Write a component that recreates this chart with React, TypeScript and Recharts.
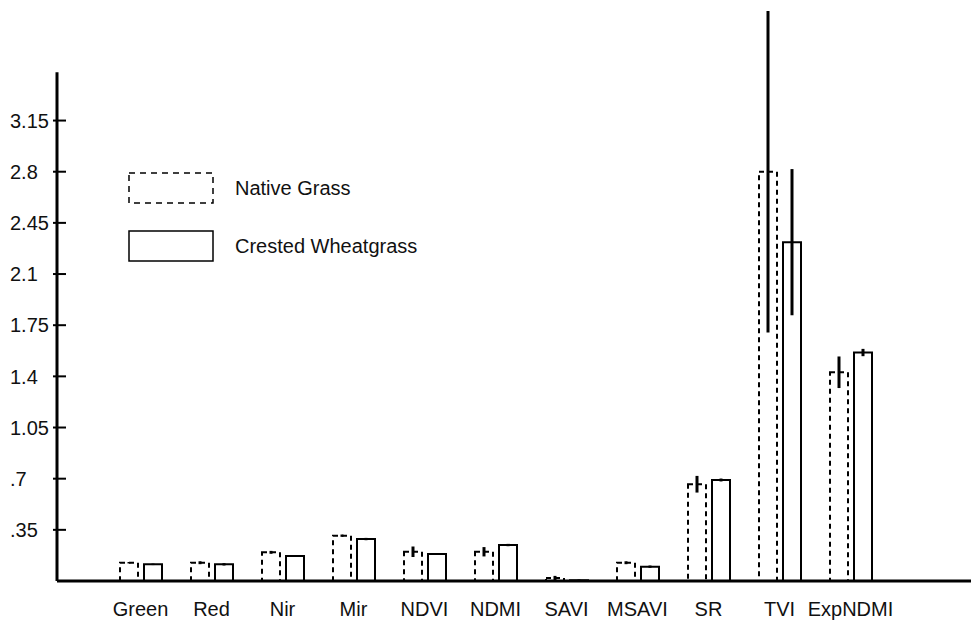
import React from "react";
import {
  BarChart,
  Bar,
  XAxis,
  YAxis,
  ErrorBar,
  Legend,
  ReferenceLine,
} from "recharts";

// Spectral bands / indices on the x axis
const categories = [
  "Green",
  "Red",
  "Nir",
  "Mir",
  "NDVI",
  "NDMI",
  "SAVI",
  "MSAVI",
  "SR",
  "TVI",
  "ExpNDMI",
];

// Mean values
const nativeValues = [0.125, 0.125, 0.196, 0.31, 0.2, 0.2, 0.02, 0.125, 0.662, 2.8, 1.428];
const crestedValues = [0.114, 0.114, 0.171, 0.287, 0.185, 0.246, 0.005, 0.098, 0.691, 2.318, 1.563];

// Error bar half lengths
const nativeErrors = [0.005, 0.01, 0.01, 0.008, 0.036, 0.032, 0.015, 0.01, 0.057, 1.1, 0.108];
const crestedErrors = [0.005, 0.008, 0.005, 0.008, 0.005, 0.008, 0.005, 0.008, 0.01, 0.5, 0.025];

const yTicks = [0.35, 0.7, 1.05, 1.4, 1.75, 2.1, 2.45, 2.8, 3.15];
const yAxisTop = 3.48;

const seriesNames = ["Native Grass", "Crested Wheatgrass"];

const chartData = categories.map((name, i) => ({
  name,
  native: nativeValues[i],
  nativeErr: nativeErrors[i],
  crested: crestedValues[i],
  crestedErr: crestedErrors[i],
}));

const FONT = "'Liberation Sans', Arial, sans-serif";
const AXIS_X = 57;

const formatTick = (v: number) => String(v).replace(/^0(?=\.)/, "");

const YTick = (props: any) => {
  const { y, payload } = props;
  return (
    <g>
      <line x1={AXIS_X - 4} x2={AXIS_X + 9} y1={y} y2={y} stroke="#000" strokeWidth={2} />
      <text x={10} y={y} dy="0.36em" textAnchor="start" fontSize={20} fontFamily={FONT} fill="#111">
        {formatTick(payload.value)}
      </text>
    </g>
  );
};

const XTick = (props: any) => {
  const { x, y, payload } = props;
  return (
    <text x={x} y={y + 28} dy="0.36em" textAnchor="middle" fontSize={20} fontFamily={FONT} fill="#111">
      {payload.value}
    </text>
  );
};

const renderLegend = () => (
  <div style={{ fontFamily: FONT, fontSize: 20, color: "#111" }}>
    {seriesNames.map((name, i) => (
      <div key={name} style={{ display: "flex", alignItems: "center", height: 32, marginBottom: 26 }}>
        <svg width={86} height={32}>
          <rect
            x={1}
            y={1}
            width={84}
            height={30}
            fill="#fff"
            stroke="#000"
            strokeWidth={1.5}
            strokeDasharray={i === 0 ? "6 5" : undefined}
          />
        </svg>
        <span style={{ marginLeft: 21 }}>{name}</span>
      </div>
    ))}
  </div>
);

const App: React.FC = () => {
  return (
    <div style={{ position: "absolute", left: 0, top: 0, background: "#fff" }}>
      <BarChart
        width={971}
        height={622}
        data={chartData}
        margin={{ top: 8, right: 0, left: 0, bottom: 0 }}
        barGap={6}
        barSize={18}
      >
        <XAxis
          dataKey="name"
          height={41}
          padding={{ left: 48, right: 85 }}
          axisLine={{ stroke: "#000", strokeWidth: 3 }}
          tickLine={false}
          tickSize={0}
          tickMargin={0}
          tick={<XTick />}
          interval={0}
        />
        <XAxis xAxisId="frame" type="number" domain={[0, 1]} allowDataOverflow hide />
        <YAxis
          width={57}
          domain={[0, 3.92]}
          ticks={yTicks}
          axisLine={false}
          tickLine={false}
          tickSize={0}
          tickMargin={0}
          tick={<YTick />}
        />
        <ReferenceLine
          xAxisId="frame"
          segment={[
            { x: 0, y: 0 },
            { x: 0, y: yAxisTop },
          ]}
          stroke="#000"
          strokeWidth={3}
        />
        <Legend
          layout="vertical"
          align="center"
          verticalAlign="middle"
          content={renderLegend}
          wrapperStyle={{ left: 128, top: 172, width: 320 }}
        />
        <Bar
          dataKey="native"
          name={seriesNames[0]}
          fill="#fff"
          stroke="#000"
          strokeWidth={2}
          strokeDasharray="5 4"
          isAnimationActive={false}
        >
          <ErrorBar dataKey="nativeErr" width={0} stroke="#000" strokeWidth={3} direction="y" />
        </Bar>
        <Bar
          dataKey="crested"
          name={seriesNames[1]}
          fill="#fff"
          stroke="#000"
          strokeWidth={2}
          isAnimationActive={false}
        >
          <ErrorBar dataKey="crestedErr" width={0} stroke="#000" strokeWidth={3} direction="y" />
        </Bar>
      </BarChart>
    </div>
  );
};

export default App;
